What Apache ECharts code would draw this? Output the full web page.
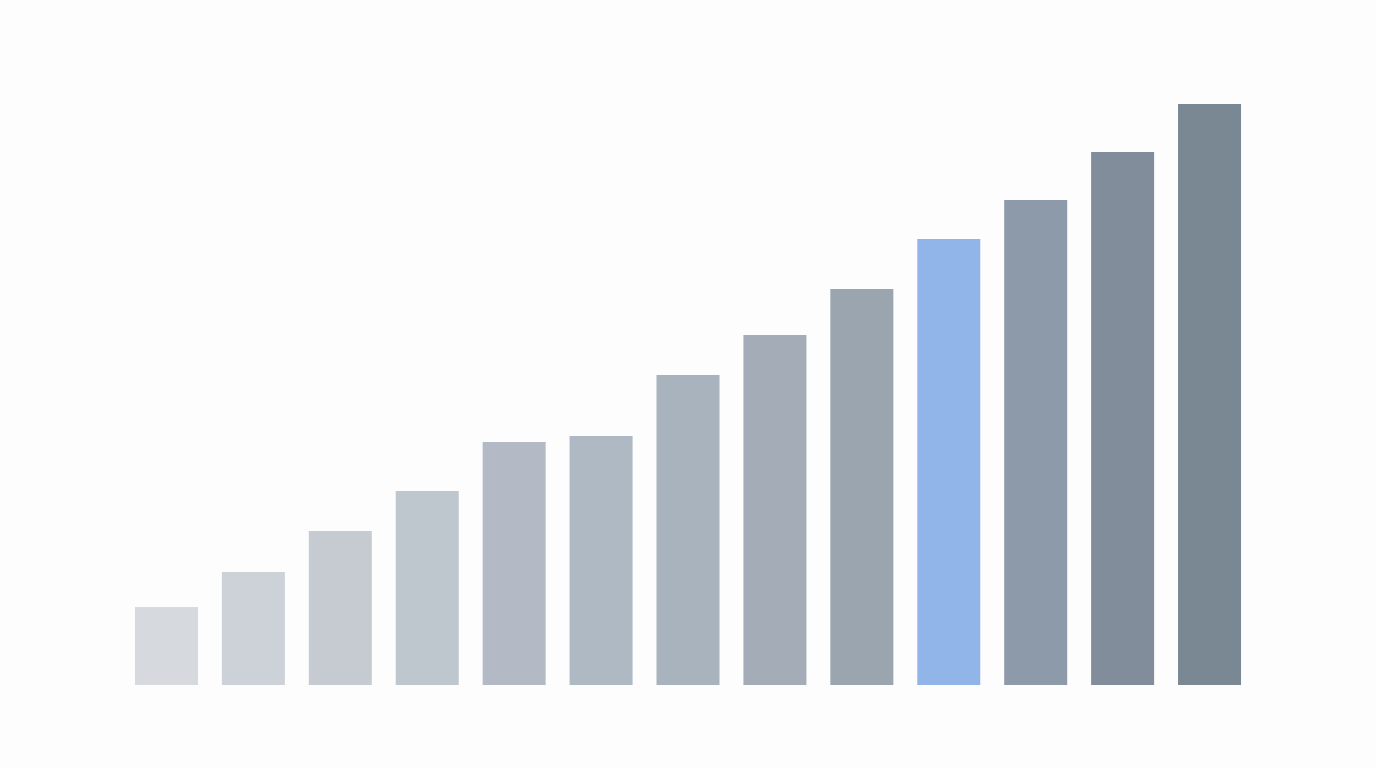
<!DOCTYPE html>
<html>
<head>
<meta charset="utf-8">
<script src="https://cdn.jsdelivr.net/npm/echarts@6/dist/echarts.min.js"></script>
<style>
  html, body { margin: 0; padding: 0; background: #fdfdfd; }
  #chart { width: 1376px; height: 768px; }
</style>
</head>
<body>
<div id="chart"></div>
<script>
// values (no axis labels shown, so in relative units)
const categories = ['1', '2', '3', '4', '5', '6', '7', '8', '9', '10', '11', '12', '13']
const values = [78, 113, 154, 194, 243, 249, 310, 350, 396, 446, 485, 533, 581]
const barColors = ['#d6dadf', '#ccd2d8', '#c6cbd2', '#bec7ce', '#b3bac5', '#aeb9c3', '#a9b3bd',
    '#a4acb7', '#9aa5b0', '#91b5e8', '#8d9aa9', '#818d9b', '#7a8894']

const chart = echarts.init(document.getElementById('chart'))
chart.setOption({
    backgroundColor: '#fdfdfd',
    animation: false,
    grid: {
        left: 123,
        right: 123,
        top: 85,
        bottom: 83
    },
    xAxis: {
        type: 'category',
        data: categories,
        axisLine: { show: false },
        axisTick: { show: false },
        axisLabel: { show: false }
    },
    yAxis: {
        type: 'value',
        min: 0,
        max: 600,
        axisLine: { show: false },
        axisTick: { show: false },
        axisLabel: { show: false },
        splitLine: { show: false }
    },
    series: [
        {
            type: 'bar',
            barWidth: 63,
            data: values.map((v, i) => ({
                value: v,
                itemStyle: { color: barColors[i] }
            }))
        }
    ]
})
</script>
</body>
</html>
